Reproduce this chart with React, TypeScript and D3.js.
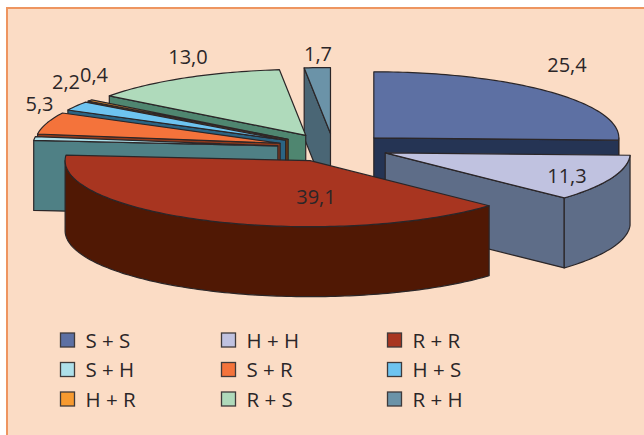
import React from "react";
import * as d3 from "d3";

// Combination shares in percent, clockwise from twelve o'clock
const categories = ["S + S", "H + H", "R + R", "S + H", "S + R", "H + S", "H + R", "R + S", "R + H"];
const shares = [25.4, 11.3, 39.1, 0.9, 5.3, 2.2, 0.4, 13.0, 1.7];
const printedLabels = ["25,4", "11,3", "39,1", "", "5,3", "2,2", "0,4", "13,0", "1,7"];
const topColors = ["#5d70a3", "#c0c2e0", "#a83520", "#aee0ea", "#f4733b", "#6ec4f0", "#f79a30", "#afdabb", "#6b93a8"];
const sideColors = ["#253454", "#5e6d88", "#501804", "#4f8085", "#8f3a1c", "#2b6483", "#6a3a12", "#4f8670", "#4a6675"];
// How far each slice is pulled from the centre, relative to the common explosion
const pullOut = [1, 1, 1.03, 1, 1, 1, 1, 1, 1];
// Back-to-front painting sequence, as indexes into the lists above
const paintOrder = [8, 0, 7, 6, 5, 4, 3, 1, 2];
// Label anchor points in the page
const labelX = [567, 567, 316, 0, 39.5, 66, 94, 188, 318];
const labelY = [72, 183, 204, 0, 111, 89, 82, 64, 61];

const W = 644, H = 435;
const CX = 333.5, CY = 147.5, RX = 245, RY = 66, DEPTH = 70;
const EXPLODE_X = 56, EXPLODE_Y = 14;
const INK = "#2b2628";
const FONT = "'Open Sans', sans-serif";

const arcs = d3.pie<number>().sort(null)(shares);
const outline = d3.line<[number, number]>();

function samples(a0: number, a1: number) {
  const n = Math.max(2, Math.ceil((a1 - a0) / 0.02));
  return d3.range(n + 1).map((i) => a0 + ((a1 - a0) * i) / n);
}

function Slice({ index }: { index: number }) {
  const { startAngle: a0, endAngle: a1 } = arcs[index];
  const mid = (a0 + a1) / 2;
  const tx = CX + Math.sin(mid) * EXPLODE_X * pullOut[index];
  const ty = CY - Math.cos(mid) * EXPLODE_Y * pullOut[index];
  const rim = (a: number): [number, number] => [tx + Math.sin(a) * RX, ty - Math.cos(a) * RY];
  const sink = (p: [number, number]): [number, number] => [p[0], p[1] + DEPTH];
  const tip: [number, number] = [tx, ty];

  const wall = (a: number) => {
    const p = rim(a);
    return outline([p, tip, sink(tip), sink(p)]) + "Z";
  };
  const walls: string[] = [];
  if (a0 > Math.PI && a0 < 2 * Math.PI) walls.push(wall(a0));
  if (a1 > 0 && a1 < Math.PI) walls.push(wall(a1));
  // The rim is only seen along the near half of the ellipse
  const from = Math.max(a0, Math.PI / 2);
  const to = Math.min(a1, (3 * Math.PI) / 2);
  if (to > from) {
    const arc = samples(from, to).map(rim);
    walls.push(outline([...arc, ...arc.slice().reverse().map(sink)]) + "Z");
  }
  const top = outline([tip, ...samples(a0, a1).map(rim)]) + "Z";

  return (
    <g stroke={INK} strokeWidth={1.2} strokeLinejoin="round">
      {walls.map((d, i) => (
        <path key={i} d={d} fill={sideColors[index]} />
      ))}
      <path d={top} fill={topColors[index]} />
    </g>
  );
}

const legendColumnX = [60, 221, 387];
const legendRowY = d3.scaleLinear().domain([0, 2]).range([340, 399]);

export default function App() {
  return (
    <svg
      width={W}
      height={H}
      viewBox={`0 0 ${W} ${H}`}
      style={{ position: "absolute", left: 0, top: 0, display: "block" }}
    >
      <rect width={W} height={H} fill="#ffffff" />
      <rect x={6} y={7} width={W - 6} height={H - 7} fill="#fbdcc5" />
      <rect x={6} y={7} width={2} height={H - 7} fill="#ee9560" />
      <rect x={6} y={7} width={W - 6} height={2} fill="#ee9560" />
      {paintOrder.map((i) => (
        <Slice key={i} index={i} />
      ))}
      {printedLabels.map((t, i) =>
        t ? (
          <text key={i} x={labelX[i]} y={labelY[i]} textAnchor="middle" fontFamily={FONT} fontSize={20} fill={INK}>
            {t}
          </text>
        ) : null
      )}
      {categories.map((c, i) => {
        const col = i % 3;
        const row = Math.floor(i / 3);
        const x = legendColumnX[col];
        const y = legendRowY(row);
        return (
          <g key={c}>
            <rect x={x + 0.5} y={y - 7} width={14} height={14} fill={topColors[i]} stroke="#3f3a3b" strokeWidth={1.3} />
            <text x={x + 25.5} y={y + 7.5} fontFamily={FONT} fontSize={20.5} fill={INK}>
              {c}
            </text>
          </g>
        );
      })}
    </svg>
  );
}
